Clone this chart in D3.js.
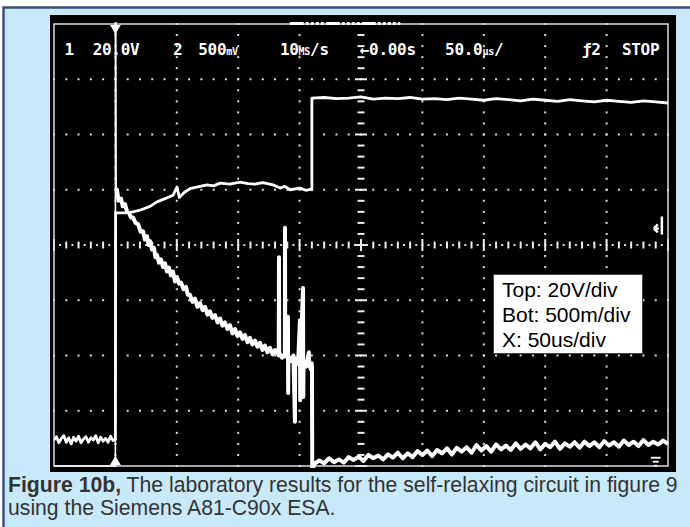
<!DOCTYPE html>
<html>
<head>
<meta charset="utf-8">
<script src="https://cdn.jsdelivr.net/npm/d3@7/dist/d3.min.js"></script>
<style>
body { margin: 0; background: #fff; }
</style>
</head>
<body>
<script>
// time in microseconds (50us/div, 10 div), values in screen divisions (-4 .. 4)

// top trace: noisy baseline before trigger (t = 0..50 step 2)
var trace1Base = [-3.53, -3.47, -3.58, -3.50, -3.45, -3.57, -3.49, -3.60, -3.48, -3.55, -3.46, -3.58, -3.51,
    -3.47, -3.57, -3.49, -3.53, -3.45, -3.58, -3.48, -3.55, -3.50, -3.57, -3.46, -3.54, -3.52];

// top trace after trigger, up to the step
var trace1Rise = [[50.2, 0.58], [51.3, 0.58], [57.8, 0.58], [64.3, 0.60], [70, 0.63], [78.2, 0.70], [83.9, 0.78],
    [90.4, 0.84], [96.9, 0.90], [100.2, 1.05], [102, 0.86], [106, 0.95], [110.7, 1.02], [118.9, 1.06],
    [124.6, 1.09], [130, 1.07], [135.2, 1.12], [143, 1.10], [151.5, 1.14], [158, 1.11], [163.7, 1.10],
    [170, 1.13], [178.3, 1.09], [184, 1.03], [188, 1.06], [192.2, 1.00], [200.3, 1.03], [205, 0.99], [209.8, 1.01]];

// top trace after the step (t = 210..500 step 10)
var trace1Top = [2.66, 2.67, 2.65, 2.66, 2.68, 2.64, 2.66, 2.65, 2.67, 2.64, 2.65, 2.63, 2.66, 2.64, 2.62,
    2.65, 2.63, 2.61, 2.64, 2.62, 2.60, 2.63, 2.61, 2.59, 2.62, 2.60, 2.58, 2.61, 2.59, 2.57];

// bottom trace: swing through the whole screen at the trigger
var trace2Edge = [[0, -4], [50, -4], [50, 4.05], [50.3, 4.05], [50.6, 1.02]];

// bottom trace: decaying curve with its noise and spikes
var trace2Decay = [[50.6, 1.02], [51.3, 1.00], [52.5, 0.80], [54.6, 0.84], [56, 0.70], [57.8, 0.74], [59.5, 0.60],
    [61.1, 0.58], [62.7, 0.50], [64.3, 0.50], [66.4, 0.40], [68.4, 0.38], [70.5, 0.24], [72.5, 0.25], [74, 0.10],
    [75.7, 0.16], [77, 0.0], [78.2, 0.07], [79.8, -0.08], [81.4, -0.05], [82.6, -0.22], [83.9, -0.18],
    [85.5, -0.32], [87.1, -0.26], [88.8, -0.40], [90.4, -0.33], [92, -0.48], [93.6, -0.41], [95.2, -0.55],
    [96.9, -0.48], [98.5, -0.66], [100.2, -0.58], [101.8, -0.70], [103.4, -0.68], [105.5, -0.80], [107.5, -0.76],
    [109, -0.90], [110.7, -0.90], [112.8, -1.03], [114.8, -0.97], [116.8, -1.12], [118.9, -1.05], [121, -1.18],
    [123.0, -1.12], [125, -1.26], [127.0, -1.20], [129, -1.32], [131.1, -1.27], [133.2, -1.40], [135.2, -1.33],
    [137.2, -1.46], [139.2, -1.40], [141.3, -1.52], [143.3, -1.45], [145.3, -1.60], [147.4, -1.52], [149.4, -1.65],
    [151.5, -1.58], [153.5, -1.70], [155.5, -1.63], [157.6, -1.76], [159.6, -1.68], [161.6, -1.80], [163.7, -1.73],
    [165.7, -1.84], [167.7, -1.77], [169.8, -1.90], [171.8, -1.82], [173.8, -1.94], [175.9, -1.86], [178, -1.98],
    [180, -1.90], [183.0, -2.00], [183.2, -0.22], [183.4, -1.95], [185.7, -2.04], [188, -1.97], [188.1, 0.31],
    [188.3, -2.02], [189.5, -2.00], [190.5, -1.30], [190.7, -2.68], [190.9, -2.02], [193.0, -2.10], [195, -2.00],
    [196.2, -3.20], [196.4, -2.05], [198.7, -2.15], [200.3, -1.36], [200.5, -2.81], [200.7, -2.08], [202.8, -0.78],
    [203.0, -2.75], [203.2, -2.10], [205.2, -2.20], [207.6, -1.94], [207.8, -2.18], [209.3, -2.25], [209.8, -2.14],
    [210.1, -2.20], [210.3, -4.10]];

// bottom trace after the drop (t = 212..500 step 4)
var trace2Low = [-3.96, -3.90, -3.95, -3.86, -3.93, -3.88, -3.94, -3.84, -3.89, -3.83, -3.91, -3.80, -3.86,
    -3.81, -3.88, -3.79, -3.85, -3.76, -3.86, -3.77, -3.84, -3.73, -3.80, -3.72, -3.82, -3.71, -3.77, -3.68,
    -3.79, -3.67, -3.74, -3.66, -3.76, -3.62, -3.72, -3.64, -3.74, -3.61, -3.70, -3.63, -3.71, -3.59, -3.69,
    -3.61, -3.68, -3.57, -3.70, -3.60, -3.66, -3.56, -3.69, -3.59, -3.65, -3.57, -3.67, -3.56, -3.64, -3.57,
    -3.66, -3.55, -3.63, -3.57, -3.65, -3.54, -3.62, -3.56, -3.64, -3.53, -3.62, -3.56, -3.61, -3.54, -3.60];

var triggerTime = 50;
var headerItems = [
    {x: 0.17, parts: [["1"]]},
    {x: 0.63, parts: [["20.0V"]]},
    {x: 1.94, parts: [["2"]]},
    {x: 2.35, parts: [["500"], ["mV", 1]]},
    {x: 3.68, parts: [["10"], ["MS", 1], ["/s"]]},
    {x: 4.98, parts: [["\u21900.00s"]]},
    {x: 6.37, parts: [["50.0"], ["\u00b5s", 1], ["/"]]},
    {x: 8.6, parts: [["\u01922"]]},
    {x: 9.25, parts: [["STOP"]]}
];
var noteLines = ["Top: 20V/div", "Bot: 500m/div", "X: 50us/div"];

var W = 690, H = 527;
var frame = {left: 54, top: 24, right: 668, bottom: 466};

var svg = d3.select("body").append("svg")
    .attr("width", W)
    .attr("height", H);

// page panel
svg.append("rect")
    .attr("x", 3.5).attr("y", 7.5)
    .attr("width", W + 10).attr("height", H + 10)
    .attr("fill", "#c8e9f9")
    .attr("stroke", "#3d4e7e")
    .attr("stroke-width", 2.5);

// scope screen
svg.append("rect")
    .attr("x", 50).attr("y", 15)
    .attr("width", 626).attr("height", 457)
    .attr("fill", "#000");

var x = d3.scaleLinear().domain([0, 500]).range([frame.left, frame.right]);
var y = d3.scaleLinear().domain([-4, 4]).range([frame.bottom, frame.top]);
var divX = (frame.right - frame.left) / 10;

var g = svg.append("g");

// graticule dots
var dots = [];
d3.range(1, 8).forEach(function(k) {
    if (k === 4) return;
    d3.range(0, 51).forEach(function(i) { dots.push([i * 10, k - 4]); });
});
d3.range(1, 10).forEach(function(k) {
    if (k === 5) return;
    d3.range(0, 41).forEach(function(i) { dots.push([k * 50, i / 5 - 4]); });
});
g.selectAll(".dot").data(dots).enter().append("rect")
    .attr("x", function(d) { return x(d[0]) - 1; })
    .attr("y", function(d) { return y(d[1]) - 1; })
    .attr("width", 2).attr("height", 2)
    .attr("fill", "#ddd");

// centre horizontal line: ticks every 1/5 div, dots in between
var hTicks = d3.range(0, 51);
g.selectAll(".htick").data(hTicks).enter().append("line")
    .attr("x1", function(d) { return x(d * 10); })
    .attr("x2", function(d) { return x(d * 10); })
    .attr("y1", function(d) { return y(0) - (d % 5 === 0 ? 6 : 3.5); })
    .attr("y2", function(d) { return y(0) + (d % 5 === 0 ? 6 : 3.5); })
    .attr("stroke", "#eee").attr("stroke-width", 2);
g.selectAll(".hdot").data(d3.range(0, 50)).enter().append("rect")
    .attr("x", function(d) { return x(d * 10 + 5) - 1; })
    .attr("y", y(0) - 1)
    .attr("width", 2).attr("height", 2)
    .attr("fill", "#ddd");

// centre vertical line
var vTicks = d3.range(0, 41);
g.selectAll(".vtick").data(vTicks).enter().append("line")
    .attr("y1", function(d) { return y(d / 5 - 4); })
    .attr("y2", function(d) { return y(d / 5 - 4); })
    .attr("x1", function(d) { return x(250) - (d % 5 === 0 ? 6 : 3.5); })
    .attr("x2", function(d) { return x(250) + (d % 5 === 0 ? 6 : 3.5); })
    .attr("stroke", "#eee").attr("stroke-width", 2);

// frame
g.append("rect")
    .attr("x", frame.left).attr("y", frame.top)
    .attr("width", frame.right - frame.left)
    .attr("height", frame.bottom - frame.top)
    .attr("fill", "none")
    .attr("stroke", "#ddd")
    .attr("stroke-width", 1.5);

// record bar on top edge
g.append("line")
    .attr("x1", x(192)).attr("x2", x(282))
    .attr("y1", frame.top - 0.5).attr("y2", frame.top - 0.5)
    .attr("stroke", "#fff").attr("stroke-width", 3)
    .attr("stroke-dasharray", "14,2,3,2,3,2,3,2,3,2");

// traces
svg.append("clipPath").attr("id", "clip")
    .append("rect")
    .attr("x", frame.left).attr("y", frame.top - 2)
    .attr("width", frame.right - frame.left + 2)
    .attr("height", frame.bottom - frame.top + 4);

var line = d3.line()
    .x(function(d) { return x(d[0]); })
    .y(function(d) { return y(d[1]); });

var trace1 = trace1Base.map(function(v, i) { return [i * 2, v]; })
    .concat(trace1Rise)
    .concat([[210, 1.0]])
    .concat(trace1Top.map(function(v, i) { return [210 + i * 10, v]; }));

var trace2 = trace2Decay
    .concat(trace2Low.map(function(v, i) { return [212 + i * 4, v]; }));

var traces = svg.append("g").attr("clip-path", "url(#clip)");
traces.append("path")
    .datum(trace2Edge)
    .attr("d", line)
    .attr("fill", "none")
    .attr("stroke", "#fff")
    .attr("stroke-width", 1.6);
traces.append("path")
    .datum(trace2)
    .attr("d", line)
    .attr("fill", "none")
    .attr("stroke", "#fff")
    .attr("stroke-width", 4)
    .attr("stroke-linejoin", "round");
traces.append("path")
    .datum(trace1)
    .attr("d", line)
    .attr("fill", "none")
    .attr("stroke", "#fff")
    .attr("stroke-width", 2.8)
    .attr("stroke-linejoin", "round");

// trigger markers
svg.append("path")
    .attr("d", d3.symbol().type(d3.symbolTriangle).size(50))
    .attr("transform", "translate(" + x(triggerTime) + "," + (frame.top + 4) + ") rotate(180)")
    .attr("fill", "#fff");
svg.append("path")
    .attr("d", d3.symbol().type(d3.symbolTriangle).size(50))
    .attr("transform", "translate(" + x(triggerTime) + "," + (frame.bottom - 4) + ")")
    .attr("fill", "#fff");

// trigger level marker (right edge)
var tl = {x: x(495), y: y(0.3)};
svg.append("path")
    .attr("d", "M" + tl.x + "," + (tl.y - 12) + "V" + (tl.y + 6) +
        "M" + (tl.x - 8) + "," + (tl.y) + "l4,-4 M" + (tl.x - 8) + "," + tl.y + "l4,4 M" + (tl.x - 8) + "," + tl.y + "h5")
    .attr("stroke", "#fff").attr("stroke-width", 2.5).attr("fill", "none");

// ground marker
var gm = {x: x(490), y: y(-3.85)};
[10, 6, 3].forEach(function(w, i) {
    svg.append("line")
        .attr("x1", gm.x - w / 2).attr("x2", gm.x + w / 2)
        .attr("y1", gm.y + i * 4).attr("y2", gm.y + i * 4)
        .attr("stroke", "#fff").attr("stroke-width", 1.8);
});

// header readout
var header = svg.append("g")
    .attr("font-family", "DejaVu Sans Mono, monospace")
    .attr("font-weight", "bold")
    .attr("font-size", 16)
    .attr("fill", "#fff");
headerItems.forEach(function(item) {
    var t = header.append("text")
        .attr("x", frame.left + item.x * divX)
        .attr("y", 55)
        .attr("letter-spacing", -0.3);
    item.parts.forEach(function(p) {
        t.append("tspan")
            .attr("font-size", p[1] ? 10 : 16)
            .text(p[0]);
    });
});

// annotation box
var nb = svg.append("g");
nb.append("rect")
    .attr("x", 493.5).attr("y", 274.5)
    .attr("width", 149).attr("height", 79)
    .attr("fill", "#fff")
    .attr("stroke", "#444");
nb.selectAll("text").data(noteLines).enter().append("text")
    .attr("x", 502)
    .attr("y", function(d, i) { return 297 + i * 25; })
    .attr("font-family", "Liberation Sans, Arial, sans-serif")
    .attr("font-size", 21)
    .attr("fill", "#000")
    .text(function(d) { return d; });

// caption
var cap = svg.append("g")
    .attr("font-family", "Liberation Sans, Arial, sans-serif")
    .attr("font-size", 21.2)
    .attr("fill", "#333");
var c1 = cap.append("text").attr("x", 8).attr("y", 492);
c1.append("tspan").attr("font-weight", "bold").text("Figure 10b,");
c1.append("tspan").text(" The laboratory results for the self-relaxing circuit in figure 9");
cap.append("text").attr("x", 8).attr("y", 515)
    .text("using the Siemens A81-C90x ESA.");
</script>
</body>
</html>
